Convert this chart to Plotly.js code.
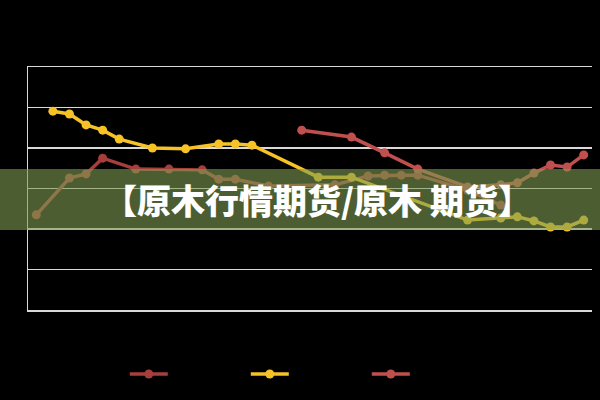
<!DOCTYPE html>
<html>
<head>
<meta charset="utf-8">
<script src="https://cdn.plot.ly/plotly-3.0.1.min.js"></script>
<style>
  html, body { margin: 0; padding: 0; background: #000; }
  #chart { width: 600px; height: 400px; }
</style>
</head>
<body>
<div id="chart"></div>
<script>
// 34 periods on the x axis, no labels shown in the picture
let categories = [];
for (let i = 1; i <= 34; i++) categories.push(String(i));

// values, null = no point in that period
let series_a = [23.5, null, 32.6, 33.6, 37.5, null, 34.8, null, 34.8, null,
                34.6, 32.3, 32.3, null, 30.6, null, null, null, 30.9, null,
                33.1, 33.3, 33.3, 33.3, null, null, 29.6, null, 25.9, null,
                null, null, null, null];
let series_b = [null, 49.1, 48.4, 45.7, 44.4, 42.2, null, 40.0, null, 39.8,
                null, 41.0, 41.0, 40.7, null, null, null, 32.8, null, 32.8,
                null, null, null, null, null, null, 22.2, null, 22.7, 23.0,
                22.0, 20.5, 20.5, 22.2];
let series_c = [null, null, null, null, null, null, null, null, null, null,
                null, null, null, null, null, null, 44.4, null, null, 42.7,
                null, 38.8, null, 34.8, null, null, 30.4, null, 30.9, 31.4,
                33.8, 35.8, 35.3, 38.3];

let banner_text = "【原木行情期货/原木 期货】";

function makeTrace(values, color) {
    return {
        x: categories,
        y: values,
        mode: 'lines+markers',
        connectgaps: true,
        name: ' ',
        line: { color: color, width: 3.5 },
        marker: { color: color, size: 9 }
    };
}

let data = [
    makeTrace(series_a, '#a63f3b'),
    makeTrace(series_b, '#f6c226'),
    makeTrace(series_c, '#c0504d')
];

let layout = {
    width: 600,
    height: 400,
    paper_bgcolor: '#000',
    plot_bgcolor: '#000',
    font: { family: 'Noto Sans CJK SC, sans-serif', color: '#fff' },
    margin: { l: 28, r: 8, t: 67, b: 90 },
    xaxis: {
        type: 'category',
        range: [-0.5, categories.length - 0.5],
        showgrid: false,
        showticklabels: false,
        ticks: '',
        showline: true,
        linecolor: '#d9d9d9',
        linewidth: 1.5,
        zeroline: false,
        mirror: true
    },
    yaxis: {
        range: [0, 60],
        dtick: 10,
        showticklabels: false,
        ticks: '',
        gridcolor: '#d9d9d9',
        gridwidth: 1.5,
        showline: true,
        linecolor: '#d9d9d9',
        linewidth: 1.5,
        zeroline: false
    },
    showlegend: true,
    legend: {
        orientation: 'h',
        xref: 'container',
        yref: 'container',
        x: 0.208,
        xanchor: 'left',
        y: 0.065,
        yanchor: 'middle',
        entrywidth: 68,
        entrywidthmode: 'pixels',
        itemwidth: 38,
        bgcolor: 'rgba(0,0,0,0)',
        font: { size: 12, color: '#fff' }
    },
    shapes: [
        {
            type: 'rect',
            xref: 'paper',
            yref: 'paper',
            x0: -0.06,
            x1: 1.03,
            y0: 0.329,
            y1: 0.580,
            fillcolor: 'rgba(125,155,82,0.6)',
            line: { width: 0 },
            layer: 'above'
        }
    ],
    annotations: [
        {
            text: banner_text,
            xref: 'paper',
            yref: 'paper',
            x: 0.514,
            y: 0.456,
            xanchor: 'center',
            yanchor: 'middle',
            showarrow: false,
            font: { family: 'Noto Sans CJK SC', size: 34, color: '#fff', weight: 900 }
        }
    ]
};

Plotly.newPlot('chart', data, layout, { displayModeBar: false, staticPlot: true });
</script>
</body>
</html>
